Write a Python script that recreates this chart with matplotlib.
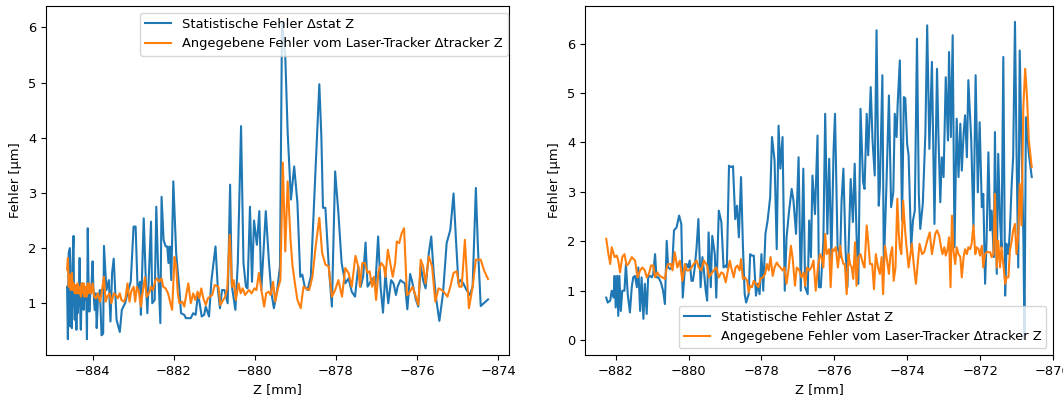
import matplotlib
matplotlib.use("Agg")
import matplotlib.pyplot as plt

plt.rcParams["font.size"] = 9.4

# ==========================
# DATA  (Z in mm, errors in um)
# ==========================
# left run: statistical error
z_stat_a = [
    -884.63, -884.61, -884.59, -884.56, -884.55, -884.53, -884.51, -884.50, -884.47, -884.46,
    -884.44, -884.42, -884.40, -884.38, -884.37, -884.34, -884.32, -884.30, -884.29, -884.27,
    -884.25, -884.22, -884.20, -884.17, -884.16, -884.14, -884.12, -884.10, -884.08, -884.06,
    -884.03, -884.00, -883.98, -883.95, -883.92, -883.90, -883.87, -883.82, -883.78, -883.74,
    -883.72, -883.66, -883.60, -883.56, -883.52, -883.48, -883.41, -883.33, -883.28, -883.20,
    -883.12, -883.06, -882.99, -882.94, -882.89, -882.83, -882.81, -882.74, -882.69, -882.65,
    -882.56, -882.53, -882.47, -882.43, -882.39, -882.33, -882.30, -882.25, -882.20, -882.16,
    -882.13, -882.10, -882.06, -882.01, -881.94, -881.86, -881.82, -881.74, -881.70, -881.63,
    -881.58, -881.52, -881.46, -881.40, -881.31, -881.25, -881.21, -881.13, -881.07, -880.97,
    -880.91, -880.86, -880.81, -880.75, -880.67, -880.61, -880.57, -880.48, -880.42, -880.34,
    -880.28, -880.22, -880.18, -880.12, -880.07, -880.02, -879.95, -879.89, -879.84, -879.73,
    -879.65, -879.59, -879.53, -879.45, -879.38, -879.33, -879.25, -879.19, -879.11, -879.03,
    -878.95, -878.88, -878.83, -878.77, -878.70, -878.62, -878.50, -878.41, -878.36, -878.32,
    -878.26, -878.18, -878.10, -878.02, -877.94, -877.86, -877.77, -877.69, -877.61, -877.53,
    -877.45, -877.39, -877.33, -877.27, -877.22, -877.17, -877.11, -877.03, -876.96, -876.90,
    -876.84, -876.78, -876.71, -876.64, -876.58, -876.52, -876.48, -876.41, -876.36, -876.30,
    -876.24, -876.17, -876.12, -876.03, -875.97, -875.91, -875.85, -875.79, -875.71, -875.65,
    -875.59, -875.53, -875.45, -875.36, -875.27, -875.18, -875.10, -875.04, -874.98, -874.93,
    -874.86, -874.78, -874.70, -874.63, -874.55, -874.50, -874.43, -874.34, -874.25,
]
stat_a = [
    1.30, 0.35, 1.91, 2.00, 0.58, 1.24, 0.55, 1.67, 2.22, 1.06,
    0.70, 1.18, 0.52, 1.24, 0.82, 1.06, 1.82, 0.70, 0.52, 1.18,
    1.36, 0.88, 1.30, 1.06, 1.24, 0.35, 2.36, 1.30, 0.85, 1.18,
    1.30, 1.76, 1.24, 0.88, 1.18, 0.55, 1.06, 1.24, 0.42, 0.45,
    2.04, 1.24, 1.42, 0.67, 1.55, 1.81, 0.70, 0.48, 0.88, 1.00,
    1.24, 1.39, 2.39, 2.39, 1.24, 1.39, 0.79, 2.54, 1.45, 0.82,
    2.48, 1.00, 1.06, 2.75, 1.73, 0.64, 2.93, 2.15, 2.03, 2.03,
    1.73, 2.03, 1.42, 3.21, 1.91, 1.24, 0.82, 0.79, 0.73, 0.73,
    0.73, 0.82, 0.79, 1.18, 0.76, 0.79, 0.94, 0.76, 1.42, 2.03,
    1.24, 0.91, 1.24, 1.24, 1.00, 3.15, 1.33, 0.88, 1.73, 4.21,
    1.73, 1.30, 1.27, 2.75, 1.39, 2.50, 2.06, 2.67, 1.24, 2.67,
    1.73, 1.18, 0.91, 1.24, 1.67, 6.10, 5.48, 4.09, 2.88, 3.48,
    2.82, 1.48, 1.52, 1.30, 1.24, 1.48, 3.48, 4.97, 4.03, 2.73,
    2.73, 1.70, 0.94, 3.39, 2.64, 1.73, 1.36, 1.45, 1.21, 1.12,
    1.67, 1.30, 1.48, 2.10, 1.30, 1.36, 1.45, 1.30, 2.21, 1.30,
    0.83, 1.55, 1.00, 1.42, 1.36, 1.15, 1.30, 1.42, 1.39, 1.36,
    0.89, 1.53, 1.39, 1.07, 0.94, 1.67, 1.42, 1.27, 1.91, 2.21,
    1.55, 1.09, 0.68, 1.18, 2.09, 2.33, 2.99, 2.15, 1.36, 1.42,
    1.36, 1.24, 1.15, 1.30, 3.09, 2.03, 0.95, 1.01, 1.07,
]

# left run: laser tracker error
z_trk_a = [
    -884.63, -884.61, -884.59, -884.56, -884.54, -884.51, -884.49, -884.47, -884.44, -884.42,
    -884.39, -884.37, -884.34, -884.32, -884.29, -884.27, -884.25, -884.22, -884.20, -884.17,
    -884.15, -884.12, -884.10, -884.08, -884.04, -884.00, -883.96, -883.92, -883.87, -883.82,
    -883.78, -883.72, -883.68, -883.64, -883.58, -883.54, -883.48, -883.43, -883.38, -883.33,
    -883.29, -883.23, -883.19, -883.14, -883.09, -883.05, -882.99, -882.95, -882.91, -882.86,
    -882.81, -882.77, -882.71, -882.67, -882.61, -882.56, -882.51, -882.45, -882.41, -882.36,
    -882.30, -882.26, -882.20, -882.14, -882.09, -882.04, -881.98, -881.94, -881.90, -881.86,
    -881.79, -881.74, -881.70, -881.64, -881.58, -881.52, -881.47, -881.41, -881.37, -881.32,
    -881.27, -881.21, -881.16, -881.11, -881.05, -880.99, -880.90, -880.85, -880.78, -880.73,
    -880.68, -880.62, -880.56, -880.52, -880.47, -880.40, -880.35, -880.30, -880.24, -880.18,
    -880.14, -880.08, -880.01, -879.96, -879.90, -879.84, -879.77, -879.72, -879.66, -879.61,
    -879.55, -879.50, -879.43, -879.37, -879.31, -879.25, -879.19, -879.12, -879.07, -879.00,
    -878.95, -878.87, -878.80, -878.74, -878.66, -878.58, -878.50, -878.41, -878.34, -878.26,
    -878.18, -878.10, -878.02, -877.94, -877.85, -877.77, -877.69, -877.61, -877.52, -877.45,
    -877.41, -877.35, -877.29, -877.22, -877.17, -877.11, -877.06, -877.01, -876.95, -876.88,
    -876.82, -876.78, -876.72, -876.66, -876.60, -876.54, -876.50, -876.44, -876.38, -876.32,
    -876.25, -876.20, -876.11, -876.03, -875.97, -875.91, -875.85, -875.79, -875.71, -875.63,
    -875.55, -875.47, -875.39, -875.31, -875.25, -875.18, -875.10, -875.02, -874.96, -874.90,
    -874.82, -874.76, -874.72, -874.63, -874.55, -874.50, -874.43, -874.34, -874.25,
]
trk_a = [
    1.61, 1.82, 1.30, 1.52, 1.24, 1.55, 1.24, 1.36, 1.18, 1.33,
    1.18, 1.36, 1.18, 1.30, 1.12, 1.36, 1.18, 1.36, 1.12, 1.30,
    1.12, 1.36, 1.18, 1.36, 1.18, 1.36, 1.12, 1.09, 1.18, 1.03,
    1.18, 1.48, 1.03, 1.12, 1.18, 1.00, 1.18, 1.15, 1.09, 1.18,
    1.06, 1.03, 1.09, 1.36, 1.03, 1.21, 1.30, 1.03, 1.30, 1.21,
    0.94, 1.18, 1.47, 1.12, 1.18, 1.30, 1.24, 1.42, 1.45, 1.39,
    1.45, 1.30, 1.27, 1.18, 1.03, 0.88, 1.84, 1.67, 1.18, 1.00,
    1.03, 0.94, 1.12, 1.36, 1.00, 1.18, 1.06, 1.21, 1.09, 1.27,
    1.09, 0.97, 1.09, 1.12, 1.15, 1.33, 1.30, 0.97, 1.06, 1.12,
    1.27, 2.24, 1.30, 1.42, 1.06, 1.36, 1.18, 1.27, 1.15, 1.21,
    1.24, 1.18, 1.27, 1.24, 1.55, 1.25, 0.94, 1.18, 1.21, 1.15,
    1.39, 1.03, 1.27, 1.42, 3.55, 1.94, 3.21, 2.15, 1.67, 1.30,
    1.06, 0.91, 1.30, 1.27, 1.24, 1.48, 2.03, 2.55, 1.91, 1.70,
    1.67, 1.12, 1.24, 1.42, 1.12, 1.64, 1.55, 1.30, 1.86, 1.67,
    1.30, 1.73, 1.73, 1.55, 1.58, 1.30, 1.48, 1.06, 1.58, 1.73,
    1.67, 1.48, 1.97, 1.73, 1.48, 1.73, 2.12, 2.09, 2.27, 2.36,
    1.15, 1.18, 1.30, 1.12, 0.97, 1.79, 1.67, 1.36, 1.85, 1.67,
    1.03, 1.27, 1.24, 1.18, 1.12, 1.30, 1.55, 1.58, 1.30, 1.30,
    2.15, 1.36, 0.91, 1.30, 1.79, 1.79, 1.79, 1.58, 1.44,
]

# right run: statistical error
z_stat_b = [
    -882.26, -882.22, -882.15, -882.11, -882.06, -882.03, -882.00, -881.96, -881.93, -881.90,
    -881.86, -881.82, -881.76, -881.72, -881.67, -881.61, -881.56, -881.52, -881.47, -881.42,
    -881.38, -881.33, -881.29, -881.24, -881.20, -881.15, -881.11, -881.06, -881.01, -880.97,
    -880.92, -880.88, -880.83, -880.76, -880.70, -880.65, -880.60, -880.56, -880.51, -880.45,
    -880.40, -880.33, -880.26, -880.20, -880.16, -880.10, -880.06, -880.01, -879.97, -879.92,
    -879.88, -879.83, -879.78, -879.73, -879.67, -879.62, -879.58, -879.53, -879.49, -879.45,
    -879.39, -879.35, -879.28, -879.24, -879.17, -879.10, -879.04, -878.98, -878.95, -878.89,
    -878.83, -878.78, -878.72, -878.67, -878.62, -878.56, -878.51, -878.46, -878.42, -878.35,
    -878.31, -878.26, -878.21, -878.15, -878.10, -878.05, -878.00, -877.95, -877.89, -877.83,
    -877.76, -877.71, -877.64, -877.58, -877.53, -877.48, -877.42, -877.36, -877.31, -877.24,
    -877.17, -877.12, -877.05, -876.98, -876.92, -876.85, -876.80, -876.73, -876.69, -876.64,
    -876.60, -876.53, -876.46, -876.42, -876.37, -876.30, -876.25, -876.19, -876.14, -876.08,
    -876.02, -875.98, -875.91, -875.84, -875.80, -875.75, -875.69, -875.64, -875.55, -875.49,
    -875.44, -875.39, -875.34, -875.28, -875.21, -875.17, -875.11, -875.07, -875.00, -874.95,
    -874.89, -874.84, -874.78, -874.75, -874.68, -874.64, -874.57, -874.50, -874.44, -874.38,
    -874.34, -874.29, -874.26, -874.20, -874.14, -874.09, -874.05, -874.00, -873.96, -873.89,
    -873.84, -873.79, -873.73, -873.68, -873.64, -873.57, -873.50, -873.45, -873.39, -873.32,
    -873.25, -873.18, -873.14, -873.09, -873.05, -873.00, -872.94, -872.88, -872.85, -872.80,
    -872.75, -872.70, -872.64, -872.59, -872.54, -872.50, -872.45, -872.41, -872.36, -872.32,
    -872.24, -872.18, -872.12, -872.06, -872.01, -871.95, -871.91, -871.86, -871.82, -871.77,
    -871.72, -871.68, -871.62, -871.59, -871.54, -871.50, -871.45, -871.41, -871.36, -871.31,
    -871.27, -871.22, -871.18, -871.13, -871.09, -871.04, -871.00, -870.95, -870.91, -870.86,
    -870.81, -870.78, -870.74, -870.66, -870.58,
]
stat_b = [
    0.86, 0.76, 0.80, 1.00, 0.86, 1.30, 0.66, 1.30, 0.49, 1.30,
    0.59, 1.00, 1.00, 1.54, 0.93, 0.56, 1.07, 1.27, 1.30, 1.07,
    1.47, 0.59, 1.27, 0.43, 1.14, 0.53, 1.27, 1.30, 1.27, 1.34,
    1.74, 1.27, 1.27, 1.17, 1.00, 0.73, 2.01, 1.47, 1.44, 1.47,
    2.22, 2.28, 2.52, 2.35, 0.86, 1.47, 1.54, 1.47, 1.61, 1.20,
    1.20, 1.47, 1.88, 2.45, 1.07, 1.68, 1.41, 1.00, 0.80, 2.18,
    1.07, 2.11, 1.74, 0.86, 2.62, 2.39, 1.47, 1.51, 1.47, 3.53,
    3.50, 3.52, 2.45, 2.72, 2.08, 3.30, 1.95, 0.93, 0.76, 0.93,
    1.74, 1.71, 1.71, 0.90, 1.14, 0.93, 1.74, 1.00, 2.15, 2.42,
    2.89, 4.11, 3.64, 1.84, 4.34, 3.47, 4.11, 1.00, 2.08, 2.62,
    3.06, 2.82, 2.15, 3.70, 1.00, 3.47, 1.07, 0.93, 2.42, 1.68,
    3.33, 2.55, 4.14, 1.07, 1.07, 2.01, 4.58, 2.15, 3.67, 1.61,
    3.84, 4.58, 1.88, 1.68, 2.82, 3.47, 1.81, 1.07, 3.26, 2.39,
    3.57, 2.15, 1.14, 4.68, 3.20, 3.06, 4.58, 3.74, 5.12, 4.04,
    3.33, 6.27, 2.72, 3.09, 5.36, 1.47, 3.09, 4.95, 2.69, 2.99,
    4.58, 4.11, 4.78, 5.66, 2.42, 4.92, 4.89, 3.97, 3.74, 1.88,
    2.42, 2.62, 6.10, 2.96, 2.25, 2.76, 4.18, 6.37, 3.87, 5.63,
    2.35, 5.49, 4.11, 2.79, 3.70, 3.30, 5.32, 4.04, 5.83, 4.11,
    6.17, 1.88, 4.48, 3.30, 4.38, 3.43, 4.18, 4.55, 3.70, 5.26,
    4.04, 2.28, 5.36, 2.99, 4.41, 2.69, 2.96, 1.14, 2.01, 3.80,
    2.22, 2.62, 1.68, 4.21, 1.34, 3.77, 2.42, 1.88, 5.73, 0.90,
    1.95, 1.74, 2.22, 3.16, 3.70, 6.44, 3.97, 1.47, 5.86, 3.91,
    2.15, 0.02, 4.51, 3.77, 3.30,
]

# right run: laser tracker error
z_trk_b = [
    -882.26, -882.20, -882.15, -882.11, -882.03, -881.97, -881.93, -881.88, -881.82, -881.76,
    -881.70, -881.65, -881.56, -881.47, -881.40, -881.33, -881.27, -881.20, -881.15, -881.09,
    -881.03, -880.97, -880.92, -880.86, -880.79, -880.72, -880.65, -880.60, -880.56, -880.49,
    -880.44, -880.38, -880.31, -880.24, -880.17, -880.10, -880.05, -879.99, -879.92, -879.86,
    -879.78, -879.72, -879.65, -879.58, -879.49, -879.44, -879.38, -879.31, -879.24, -879.17,
    -879.10, -879.04, -878.98, -878.92, -878.87, -878.83, -878.76, -878.71, -878.66, -878.60,
    -878.56, -878.51, -878.45, -878.39, -878.35, -878.31, -878.26, -878.21, -878.15, -878.08,
    -878.03, -877.96, -877.90, -877.85, -877.80, -877.75, -877.69, -877.64, -877.58, -877.53,
    -877.48, -877.42, -877.37, -877.31, -877.25, -877.19, -877.14, -877.08, -877.03, -876.96,
    -876.90, -876.84, -876.80, -876.75, -876.69, -876.63, -876.57, -876.51, -876.44, -876.39,
    -876.35, -876.30, -876.25, -876.21, -876.14, -876.10, -876.05, -876.01, -875.96, -875.90,
    -875.84, -875.80, -875.75, -875.71, -875.66, -875.61, -875.57, -875.52, -875.48, -875.43,
    -875.39, -875.34, -875.28, -875.21, -875.17, -875.11, -875.07, -875.02, -874.96, -874.91,
    -874.86, -874.80, -874.75, -874.70, -874.66, -874.61, -874.55, -874.50, -874.46, -874.41,
    -874.37, -874.32, -874.27, -874.23, -874.20, -874.16, -874.11, -874.07, -874.02, -873.96,
    -873.91, -873.87, -873.82, -873.76, -873.71, -873.66, -873.59, -873.53, -873.45, -873.38,
    -873.32, -873.27, -873.23, -873.18, -873.12, -873.06, -873.03, -872.98, -872.94, -872.89,
    -872.85, -872.81, -872.77, -872.73, -872.68, -872.64, -872.59, -872.54, -872.50, -872.45,
    -872.41, -872.36, -872.32, -872.27, -872.23, -872.18, -872.13, -872.09, -872.04, -872.00,
    -871.95, -871.91, -871.86, -871.82, -871.77, -871.72, -871.68, -871.63, -871.59, -871.54,
    -871.50, -871.45, -871.41, -871.36, -871.31, -871.27, -871.22, -871.18, -871.13, -871.09,
    -871.04, -871.00, -870.95, -870.91, -870.86, -870.81, -870.76, -870.71, -870.66, -870.58,
]
trk_b = [
    2.05, 1.74, 1.54, 1.88, 1.68, 1.71, 1.61, 1.37, 1.68, 1.74,
    1.51, 1.54, 1.68, 1.61, 1.27, 1.41, 1.47, 1.41, 1.27, 1.34,
    1.51, 1.51, 1.27, 1.37, 1.30, 1.27, 1.24, 1.47, 1.54, 1.54,
    1.41, 1.78, 1.47, 1.61, 1.20, 1.54, 1.41, 1.41, 1.47, 1.54,
    1.61, 1.47, 1.41, 1.61, 1.51, 1.27, 1.34, 1.41, 1.47, 1.27,
    1.37, 1.34, 1.17, 1.41, 1.61, 1.47, 1.27, 1.47, 1.51, 1.41,
    1.64, 1.24, 1.27, 1.20, 0.97, 1.10, 1.07, 1.20, 1.14, 1.07,
    1.24, 1.27, 1.34, 1.54, 1.41, 1.68, 1.30, 1.47, 1.57, 1.51,
    1.47, 1.41, 1.47, 1.14, 1.47, 1.91, 1.64, 1.10, 1.47, 1.41,
    1.27, 1.37, 1.10, 1.47, 1.41, 1.47, 1.61, 1.00, 1.54, 1.74,
    1.68, 1.47, 2.15, 1.74, 1.84, 1.07, 1.84, 1.81, 1.88, 1.47,
    1.91, 1.68, 1.54, 1.54, 0.93, 1.74, 1.54, 1.47, 1.24, 1.98,
    1.10, 1.68, 1.74, 1.54, 1.47, 2.32, 2.01, 1.54, 1.54, 1.03,
    1.74, 1.47, 1.34, 1.68, 0.93, 1.91, 1.61, 1.34, 1.71, 1.88,
    1.20, 1.47, 2.86, 2.15, 1.88, 1.74, 2.82, 2.35, 1.91, 1.47,
    1.74, 1.95, 1.54, 1.14, 1.54, 1.95, 1.74, 1.78, 2.01, 2.18,
    1.74, 1.95, 2.15, 2.22, 2.11, 1.84, 1.74, 1.88, 1.71, 1.84,
    2.08, 1.07, 2.52, 1.81, 1.54, 1.88, 1.74, 1.68, 1.27, 1.68,
    1.84, 1.74, 1.88, 1.84, 1.95, 2.32, 1.74, 1.88, 1.84, 1.71,
    1.91, 1.47, 1.74, 1.78, 1.78, 1.78, 1.68, 1.74, 2.96, 1.47,
    2.01, 1.47, 1.88, 1.54, 1.14, 1.27, 1.27, 1.81, 2.01, 2.22,
    2.35, 1.74, 2.15, 3.16, 2.32, 4.72, 5.49, 4.92, 4.04, 3.50,
]

lbl_stat = "Statistische Fehler \u0394stat Z"
lbl_trk = "Angegebene Fehler vom Laser-Tracker \u0394tracker Z"

# ==========================
# PLOT
# ==========================
fig = plt.figure(figsize=(10.63, 4.0), dpi=100)
ax1 = fig.add_axes([0.0433, 0.1125, 0.4356, 0.8725])
ax2 = fig.add_axes([0.5503, 0.1125, 0.4403, 0.8725])

ax1.plot(z_stat_a, stat_a, label=lbl_stat)
ax1.plot(z_trk_a, trk_a, label=lbl_trk)
ax1.set_xlabel("Z [mm]")
ax1.set_ylabel("Fehler [\u00b5m]")
ax1.legend(loc="upper right", bbox_to_anchor=(0.997, 0.981), borderaxespad=0)

ax2.plot(z_stat_b, stat_b, label=lbl_stat)
ax2.plot(z_trk_b, trk_b, label=lbl_trk)
ax2.set_xlabel("Z [mm]")
ax2.set_ylabel("Fehler [\u00b5m]")
ax2.legend(loc="lower right")

fig.savefig("out.png", dpi=100)
